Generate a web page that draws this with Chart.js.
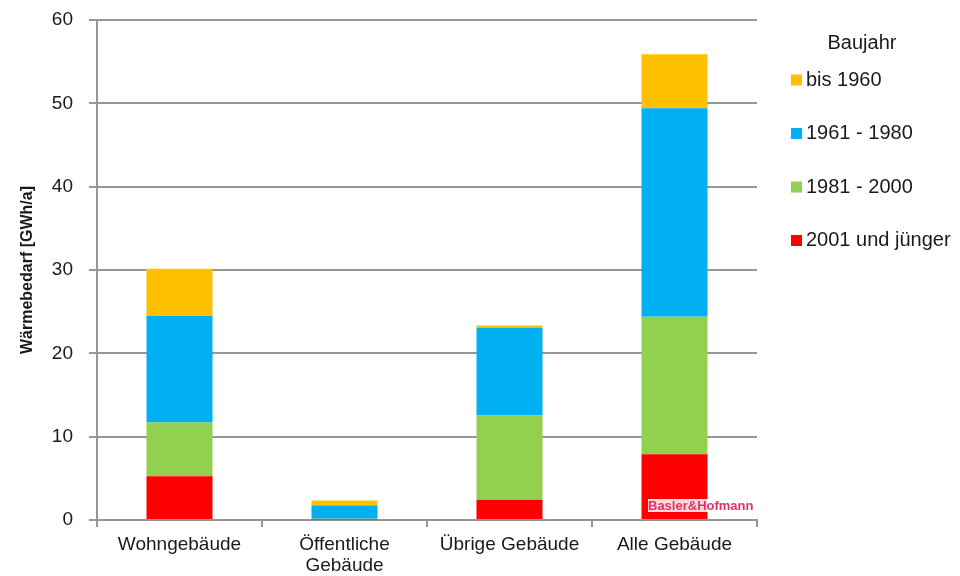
<!DOCTYPE html>
<html>
<head>
<meta charset="utf-8">
<script src="https://cdn.jsdelivr.net/npm/chart.js@4"></script>
<style>
  html, body { margin: 0; padding: 0; background: #fff; }
  #wrap { width: 960px; height: 576px; }
</style>
</head>
<body>
<div id="wrap"><canvas id="myChart"></canvas></div>
<script>
const categories = ["Wohngebäude", ["Öffentliche", "Gebäude"], "Übrige Gebäude", "Alle Gebäude"];
const yTicks = [0, 10, 20, 30, 40, 50, 60];

// Wärmebedarf in GWh/a je Baujahr-Klasse
const ab2001 = [5.26, 0.05, 2.42, 7.9];
const von1981 = [6.44, 0.1, 10.12, 16.5];
const von1961 = [12.77, 1.6, 10.53, 25.0];
const bis1960 = [5.68, 0.6, 0.28, 6.5];

const font = "'Liberation Sans', Arial, sans-serif";
const gridColor = "#979797";

// eigene Legende rechts neben dem Diagramm
const sideLegend = {
    id: "sideLegend",
    afterDraw(chart) {
        const c = chart.ctx;
        c.save();
        c.fillStyle = "#1a1a1a";
        c.font = "20px " + font;
        c.textBaseline = "middle";
        c.textAlign = "center";
        c.fillText("Baujahr", 862, 43);
        c.textAlign = "left";
        const sets = chart.data.datasets.slice().reverse();
        sets.forEach((ds, i) => {
            const y = 80 + i * 53.5;
            c.fillStyle = ds.backgroundColor;
            c.fillRect(791, y - 5.5, 11, 11);
            c.fillStyle = "#1a1a1a";
            c.fillText(ds.label, 806, y);
        });

        // Firmenlogo unten im letzten Balken
        c.fillStyle = "rgba(255,255,255,0.85)";
        c.fillRect(648, 499, 105, 13);
        c.font = "bold 13px " + font;
        c.fillStyle = "#e3336a";
        c.textBaseline = "middle";
        c.fillText("Basler&Hofmann", 648, 506);
        c.restore();
    },
};

const ctx = document.getElementById("myChart").getContext("2d");
const myChart = new Chart(ctx, {
    type: "bar",
    data: {
        labels: categories,
        datasets: [
            { label: "2001 und jünger", data: ab2001, backgroundColor: "#FF0000" },
            { label: "1981 - 2000", data: von1981, backgroundColor: "#92D050" },
            { label: "1961 - 1980", data: von1961, backgroundColor: "#00B0F0" },
            { label: "bis 1960", data: bis1960, backgroundColor: "#FFC000" },
        ],
    },
    plugins: [sideLegend],
    options: {
        responsive: true,
        maintainAspectRatio: false,
        animation: false,
        layout: {
            padding: { top: 20, right: 203, bottom: 0, left: 0 },
        },
        datasets: {
            bar: {
                categoryPercentage: 1,
                barPercentage: 0.4,
                borderWidth: 0,
            },
        },
        plugins: {
            legend: { display: false },
            tooltip: { enabled: false },
        },
        scales: {
            x: {
                stacked: true,
                afterFit(scale) {
                    scale.height = 56;
                },
                grid: {
                    offset: true,
                    drawOnChartArea: false,
                    tickLength: 7,
                    color: gridColor,
                    lineWidth: 2,
                },
                border: { color: gridColor, width: 2 },
                ticks: {
                    color: "#1a1a1a",
                    padding: 7,
                    maxRotation: 0,
                    font: { family: font, size: 19, lineHeight: 1.1 },
                },
            },
            y: {
                stacked: true,
                min: 0,
                max: 60,
                afterFit(scale) {
                    scale.width = 97;
                    scale.paddingTop = 0;
                    scale.paddingBottom = 0;
                },
                afterBuildTicks(scale) {
                    scale.ticks = yTicks.map((v) => ({ value: v }));
                },
                grid: {
                    color: gridColor,
                    lineWidth: 2,
                    tickLength: 8,
                },
                border: { color: gridColor, width: 2 },
                ticks: {
                    color: "#1a1a1a",
                    padding: 16,
                    font: { family: font, size: 19 },
                },
                title: {
                    display: true,
                    text: "Wärmebedarf [GWh/a]",
                    color: "#1a1a1a",
                    padding: { top: 18, bottom: 0 },
                    font: { family: font, size: 16, weight: "bold" },
                },
            },
        },
    },
});
</script>
</body>
</html>
